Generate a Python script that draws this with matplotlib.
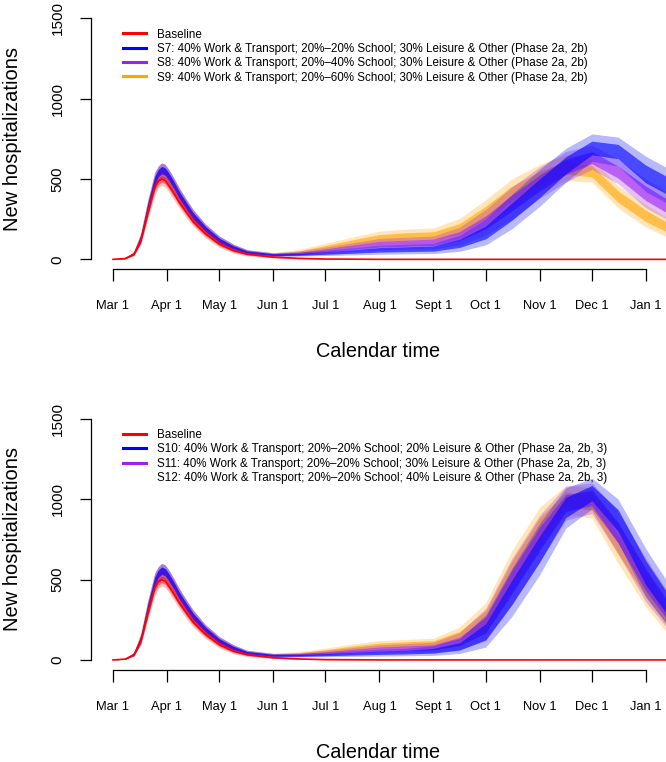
from matplotlib import pyplot as plt
from matplotlib.lines import Line2D
import numpy as np

plt.rcParams['font.family'] = ['Liberation Sans', 'DejaVu Sans']

# days since Mar 1
days = [0, 7, 12, 16, 20, 24, 26, 28, 30, 32, 35, 38, 42, 46, 53, 61, 69, 77,
        92, 107, 122, 138, 153, 168, 184, 199, 214, 229, 245, 260, 275, 290, 306, 318]

month_ticks = [0, 31, 61, 92, 122, 153, 184, 214, 245, 275, 306]
month_labels = ['Mar 1', 'Apr 1', 'May 1', 'Jun 1', 'Jul 1', 'Aug 1', 'Sept 1',
                'Oct 1', 'Nov 1', 'Dec 1', 'Jan 1']

# first wave, shared by all scenarios (low, mid, high), up to day 77
wave1_lo = [0, 4, 25, 100, 270, 440, 490, 510, 500, 470, 420, 360, 295, 235, 160, 95, 55, 32]
wave1_mid = [0, 6, 35, 130, 320, 490, 535, 555, 545, 515, 460, 400, 335, 270, 190, 118, 75, 45]
wave1_hi = [0, 9, 48, 165, 370, 540, 580, 600, 590, 560, 505, 445, 375, 310, 220, 145, 95, 60]

base_lo = [0, 4, 22, 95, 250, 400, 445, 460, 450, 420, 370, 320, 260, 205, 135, 75, 40, 22,
           8, 3, 1, 0, 0, 0, 0, 0, 0, 0, 0, 0, 0, 0, 0, 0]
base_mid = [0, 5, 32, 120, 295, 450, 485, 500, 490, 460, 410, 355, 295, 235, 160, 95, 55, 32,
            14, 6, 2, 1, 0, 0, 0, 0, 0, 0, 0, 0, 0, 0, 0, 0]
base_hi = [0, 8, 44, 150, 340, 490, 525, 540, 530, 500, 450, 395, 330, 270, 190, 120, 72, 44,
           22, 10, 4, 2, 0, 0, 0, 0, 0, 0, 0, 0, 0, 0, 0, 0]

# from Jun 1 on (day 92 onwards)
s7_lo = [18, 20, 24, 28, 32, 34, 36, 50, 90, 190, 330, 480, 610, 580, 420, 350]
s7_mid = [28, 30, 38, 48, 58, 62, 66, 98, 165, 295, 440, 585, 690, 670, 530, 460]
s7_hi = [40, 44, 56, 72, 88, 94, 100, 150, 250, 405, 560, 690, 780, 760, 640, 570]

s8_lo = [19, 24, 35, 48, 58, 62, 65, 90, 150, 250, 380, 480, 560, 470, 320, 250]
s8_mid = [29, 37, 54, 76, 94, 100, 106, 145, 230, 350, 475, 575, 630, 540, 410, 330]
s8_hi = [41, 52, 76, 104, 130, 138, 145, 200, 310, 450, 575, 670, 710, 620, 500, 420]

s9_lo = [20, 28, 48, 72, 90, 95, 100, 130, 210, 320, 420, 490, 480, 320, 200, 140]
s9_mid = [30, 44, 72, 105, 132, 142, 148, 190, 290, 410, 505, 570, 545, 390, 270, 200]
s9_hi = [42, 62, 100, 140, 175, 188, 195, 255, 370, 500, 590, 650, 620, 460, 340, 260]

s10_lo = [18, 18, 20, 22, 24, 26, 28, 40, 80, 270, 530, 820, 940, 730, 390, 220]
s10_mid = [28, 28, 32, 38, 44, 48, 56, 82, 170, 420, 690, 950, 1040, 870, 540, 350]
s10_hi = [40, 40, 46, 56, 66, 72, 88, 132, 280, 570, 850, 1070, 1130, 1000, 690, 490]

s11_lo = [19, 21, 27, 35, 42, 46, 48, 65, 120, 340, 610, 870, 910, 660, 360, 200]
s11_mid = [29, 33, 42, 55, 66, 72, 78, 112, 215, 485, 755, 975, 1010, 790, 495, 310]
s11_hi = [41, 46, 60, 78, 94, 102, 110, 170, 320, 630, 900, 1080, 1100, 920, 630, 430]

s12_lo = [20, 24, 35, 50, 62, 70, 72, 95, 170, 420, 690, 910, 880, 600, 330, 170]
s12_mid = [30, 37, 54, 74, 90, 98, 104, 150, 260, 550, 820, 1000, 980, 720, 450, 270]
s12_hi = [42, 52, 74, 100, 120, 128, 135, 205, 355, 680, 950, 1085, 1070, 840, 570, 380]

top_labels = ['Baseline',
              'S7: 40% Work & Transport; 20%\u201320% School; 30% Leisure & Other (Phase 2a, 2b)',
              'S8: 40% Work & Transport; 20%\u201340% School; 30% Leisure & Other (Phase 2a, 2b)',
              'S9: 40% Work & Transport; 20%\u201360% School; 30% Leisure & Other (Phase 2a, 2b)']
bottom_labels = ['Baseline',
                 'S10: 40% Work & Transport; 20%\u201320% School; 20% Leisure & Other (Phase 2a, 2b, 3)',
                 'S11: 40% Work & Transport; 20%\u201320% School; 30% Leisure & Other (Phase 2a, 2b, 3)',
                 'S12: 40% Work & Transport; 20%\u201320% School; 40% Leisure & Other (Phase 2a, 2b, 3)']

RED = '#FF0000'
BLUE = '#0000FF'
PURPLE = '#A020F0'
ORANGE = '#FFA500'


def draw_band(ax, lo, mid, hi, color, a_out=0.28, a_in=0.6):
    lo, mid, hi = np.array(lo), np.array(mid), np.array(hi)
    # faint outer spread, denser core around the middle run
    ax.fill_between(days, lo, hi, color=color, alpha=a_out, lw=0)
    ax.fill_between(days, (lo + mid) / 2, (mid + hi) / 2, color=color, alpha=a_in, lw=0)


def draw_panel(ax, scen, labels, show_last_handle=True):
    # orange, purple, blue
    for (lo, mid, hi), color in zip(scen[::-1], [ORANGE, PURPLE, BLUE]):
        draw_band(ax, wave1_lo + lo, wave1_mid + mid, wave1_hi + hi, color)
    draw_band(ax, base_lo, base_mid, base_hi, RED, 0.25, 0.45)
    ax.plot(days, base_mid, color=RED, lw=1.2)

    ax.set_xlim(-12.63, 317.5)
    ax.set_ylim(-60, 1560)
    for side in ['top', 'right']:
        ax.spines[side].set_visible(False)
    ax.spines['left'].set_bounds(0, 1500)
    ax.spines['bottom'].set_bounds(0, 306)
    ax.spines['left'].set_linewidth(0.9)
    ax.spines['bottom'].set_linewidth(0.9)

    ax.set_xticks(month_ticks)
    ax.set_xticklabels(month_labels)
    ax.set_yticks([0, 500, 1000, 1500])
    ax.tick_params(axis='x', length=8.5, width=0.9, pad=14, labelsize=9.3)
    ax.tick_params(axis='y', length=8, width=0.9, pad=11, labelsize=11, labelrotation=90)
    for t in ax.get_yticklabels():
        t.set_va('center')

    ax.set_xlabel('Calendar time', fontsize=14.3)
    ax.xaxis.set_label_coords(0.5, -0.318)
    ax.xaxis.label.set_va('center')
    ax.set_ylabel('New hospitalizations', fontsize=14.5)
    ax.yaxis.set_label_coords(-0.136, 0.5)
    ax.yaxis.label.set_va('center')

    handles = [Line2D([], [], color=RED, lw=2.2),
               Line2D([], [], color=BLUE, lw=2.2),
               Line2D([], [], color=PURPLE, lw=2.2),
               Line2D([], [], color=ORANGE, lw=2.2)]
    if not show_last_handle:
        handles[3] = Line2D([], [], color='none', lw=0)
    ax.legend(handles, labels, loc='upper left', bbox_to_anchor=(0.0557, 0.923),
              frameon=False, fontsize=8.4, handlelength=1.97, handletextpad=0.95,
              labelspacing=0.2, borderpad=0, borderaxespad=0)


fig = plt.figure(figsize=(6.66, 7.62), dpi=100)
ax1 = fig.add_axes([0.1366, 0.6470, 0.8634, 0.3419])
ax2 = fig.add_axes([0.1366, 0.1213, 0.8634, 0.3419])

draw_panel(ax1, [(s7_lo, s7_mid, s7_hi), (s8_lo, s8_mid, s8_hi), (s9_lo, s9_mid, s9_hi)],
           top_labels)
draw_panel(ax2, [(s10_lo, s10_mid, s10_hi), (s11_lo, s11_mid, s11_hi), (s12_lo, s12_mid, s12_hi)],
           bottom_labels, show_last_handle=False)

fig.savefig('out.png', dpi=100)
